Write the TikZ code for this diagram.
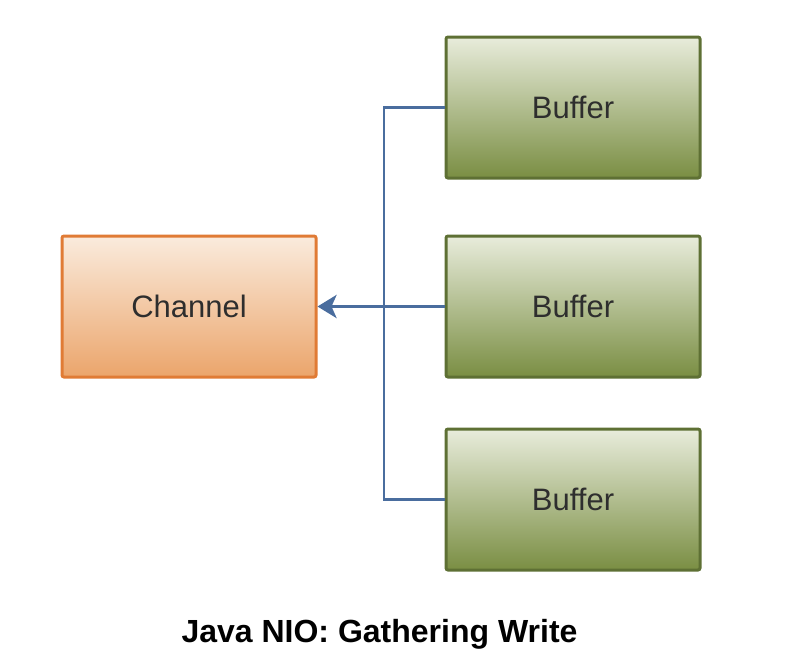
\documentclass[tikz,border=0pt]{standalone}
\usepackage{fontspec}
\setmainfont{Liberation Sans}
\usetikzlibrary{arrows.meta}
\definecolor{chanfill1}{HTML}{FAEBDD}
\definecolor{chanfill2}{HTML}{EBA56B}
\definecolor{chanline}{HTML}{E07B35}
\definecolor{buffill1}{HTML}{E8ECDB}
\definecolor{buffill2}{HTML}{7A8E43}
\definecolor{bufline}{HTML}{5E7034}
\definecolor{wire}{HTML}{4A6D9E}
\definecolor{labeltext}{HTML}{2E2E2E}
\tikzset{
  channelbox/.style={draw=chanline, line width=3pt, rounded corners=2pt,
    top color=chanfill1, bottom color=chanfill2,
    minimum width=254pt, minimum height=141pt, inner sep=0pt,
    font=\fontsize{31}{36}\selectfont, text=labeltext},
  bufferbox/.style={draw=bufline, line width=3pt, rounded corners=2pt,
    top color=buffill1, bottom color=buffill2,
    minimum width=254pt, minimum height=141pt, inner sep=0pt,
    font=\fontsize{31}{36}\selectfont, text=labeltext},
  wireline/.style={draw=wire, line width=2.8pt},
  mainwire/.style={draw=wire, line width=3.4pt, -{Stealth[length=19pt,width=23pt,inset=5pt]}}
}
\begin{document}
\begin{tikzpicture}[x=1pt,y=-1pt]
  \useasboundingbox (0,0) rectangle (794,670);

  % channel and buffers
  \node[channelbox] (ch) at (189,306.5) {Channel};
  \node[bufferbox] (b1) at (573,107.5) {Buffer};
  \node[bufferbox] (b2) at (573,306.5) {Buffer};
  \node[bufferbox] (b3) at (573,499.5) {Buffer};

  % collecting bus
  \coordinate (bus) at (384,306.5);
  \draw[wireline, line join=miter] (b1.west) -| (bus);
  \draw[wireline, line join=miter] (b3.west) -| (bus);
  \draw[mainwire] (b2.west) -- (ch.east);

  % caption
  \node[font=\fontsize{32}{37}\selectfont\bfseries] (title) at (379.5,634) {Java NIO: Gathering Write};
\end{tikzpicture}
\end{document}
